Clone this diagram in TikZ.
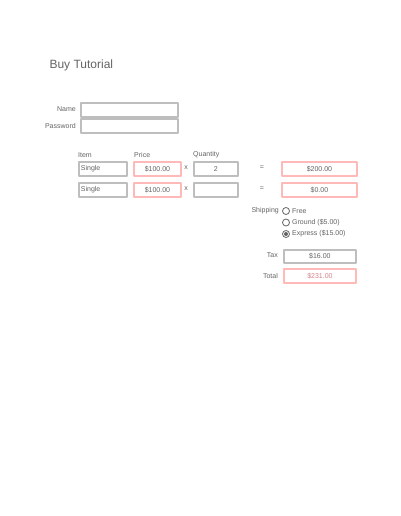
\documentclass[tikz,border=0pt]{standalone}
\usepackage{fontspec}
\setmainfont{Liberation Sans}
\usepackage{xcolor}
\usetikzlibrary{positioning}
\definecolor{boxgray}{RGB}{190,190,190}
\definecolor{boxred}{RGB}{255,185,185}
\definecolor{txtgray}{RGB}{100,100,100}
\definecolor{txtred}{RGB}{215,130,140}

\begin{document}
\begin{tikzpicture}[x=1pt,y=-1pt,line cap=round,line join=round,
	field/.style={draw=boxgray,line width=1.8pt,anchor=north west,inner sep=0pt,minimum height=14pt,font=\fontsize{7}{8}\selectfont,text=txtgray},
	outfield/.style={field,draw=boxred},
	lbl/.style={font=\fontsize{7}{8}\selectfont,text=txtgray,inner sep=0pt},
	radio/.style={draw=txtgray,line width=0.8pt,circle,inner sep=0pt,minimum size=7pt}]
		\fill[white] (0,0) rectangle (400,516);
		\node[anchor=west,font=\fontsize{12}{13}\selectfont,text=txtgray] (title) at (46,65) {Buy Tutorial};
		% login
		\node[field,minimum width=97pt] (name) at (80,102) {};
		\node[field,minimum width=97pt] (pass) at (80,118) {};
		\node[lbl,anchor=east] (namel) at (76,109) {Name};
		\node[lbl,anchor=east] (passl) at (76,126) {Password};
		% order table
		\node[lbl,anchor=south west] (itemh) at (78,158) {Item};
		\node[lbl,anchor=south west] (priceh) at (134,158) {Price};
		\node[lbl,anchor=south west] (qtyh) at (193,158) {Quantity};
		\foreach \r/\y/\q/\s in {1/161/2/\$200.00,2/182//\$0.00}{
			\node[field,minimum width=47pt,text width=44pt,align=left,inner xsep=2pt] (item\r) at (78,\y) {Single};
			\node[outfield,minimum width=47pt] (price\r) at (133,\y) {\$100.00};
			\node[lbl] (times\r) at (186,\y+7) {x};
			\node[field,minimum width=44pt] (qty\r) at (193,\y) {\q};
			\node[lbl] (eq\r) at (262,\y+7) {=};
			\node[outfield,minimum width=75pt] (sub\r) at (281,\y) {\s};
		}
		% shipping
		\node[lbl,anchor=east] (shipl) at (279,211) {Shipping};
		\node[radio] (free) at (286,211) {};
		\node[radio] (ground) at (286,222.5) {};
		\node[radio] (express) at (286,234) {};
		\fill[txtgray] (express) circle (2pt);
		\node[lbl,anchor=west] (freel) at (292,211) {Free};
		\node[lbl,anchor=west] (groundl) at (292,222.5) {Ground (\$5.00)};
		\node[lbl,anchor=west] (expressl) at (292,234) {Express (\$15.00)};
		% totals
		\node[lbl,anchor=east] (taxl) at (278,255.5) {Tax};
		\node[field,minimum width=72pt,minimum height=13pt] (tax) at (283,249) {\$16.00};
		\node[lbl,anchor=east] (totall) at (278,275.5) {Total};
		\node[outfield,minimum width=72pt,text=txtred] (total) at (283,268) {\$231.00};
\end{tikzpicture}
\end{document}
